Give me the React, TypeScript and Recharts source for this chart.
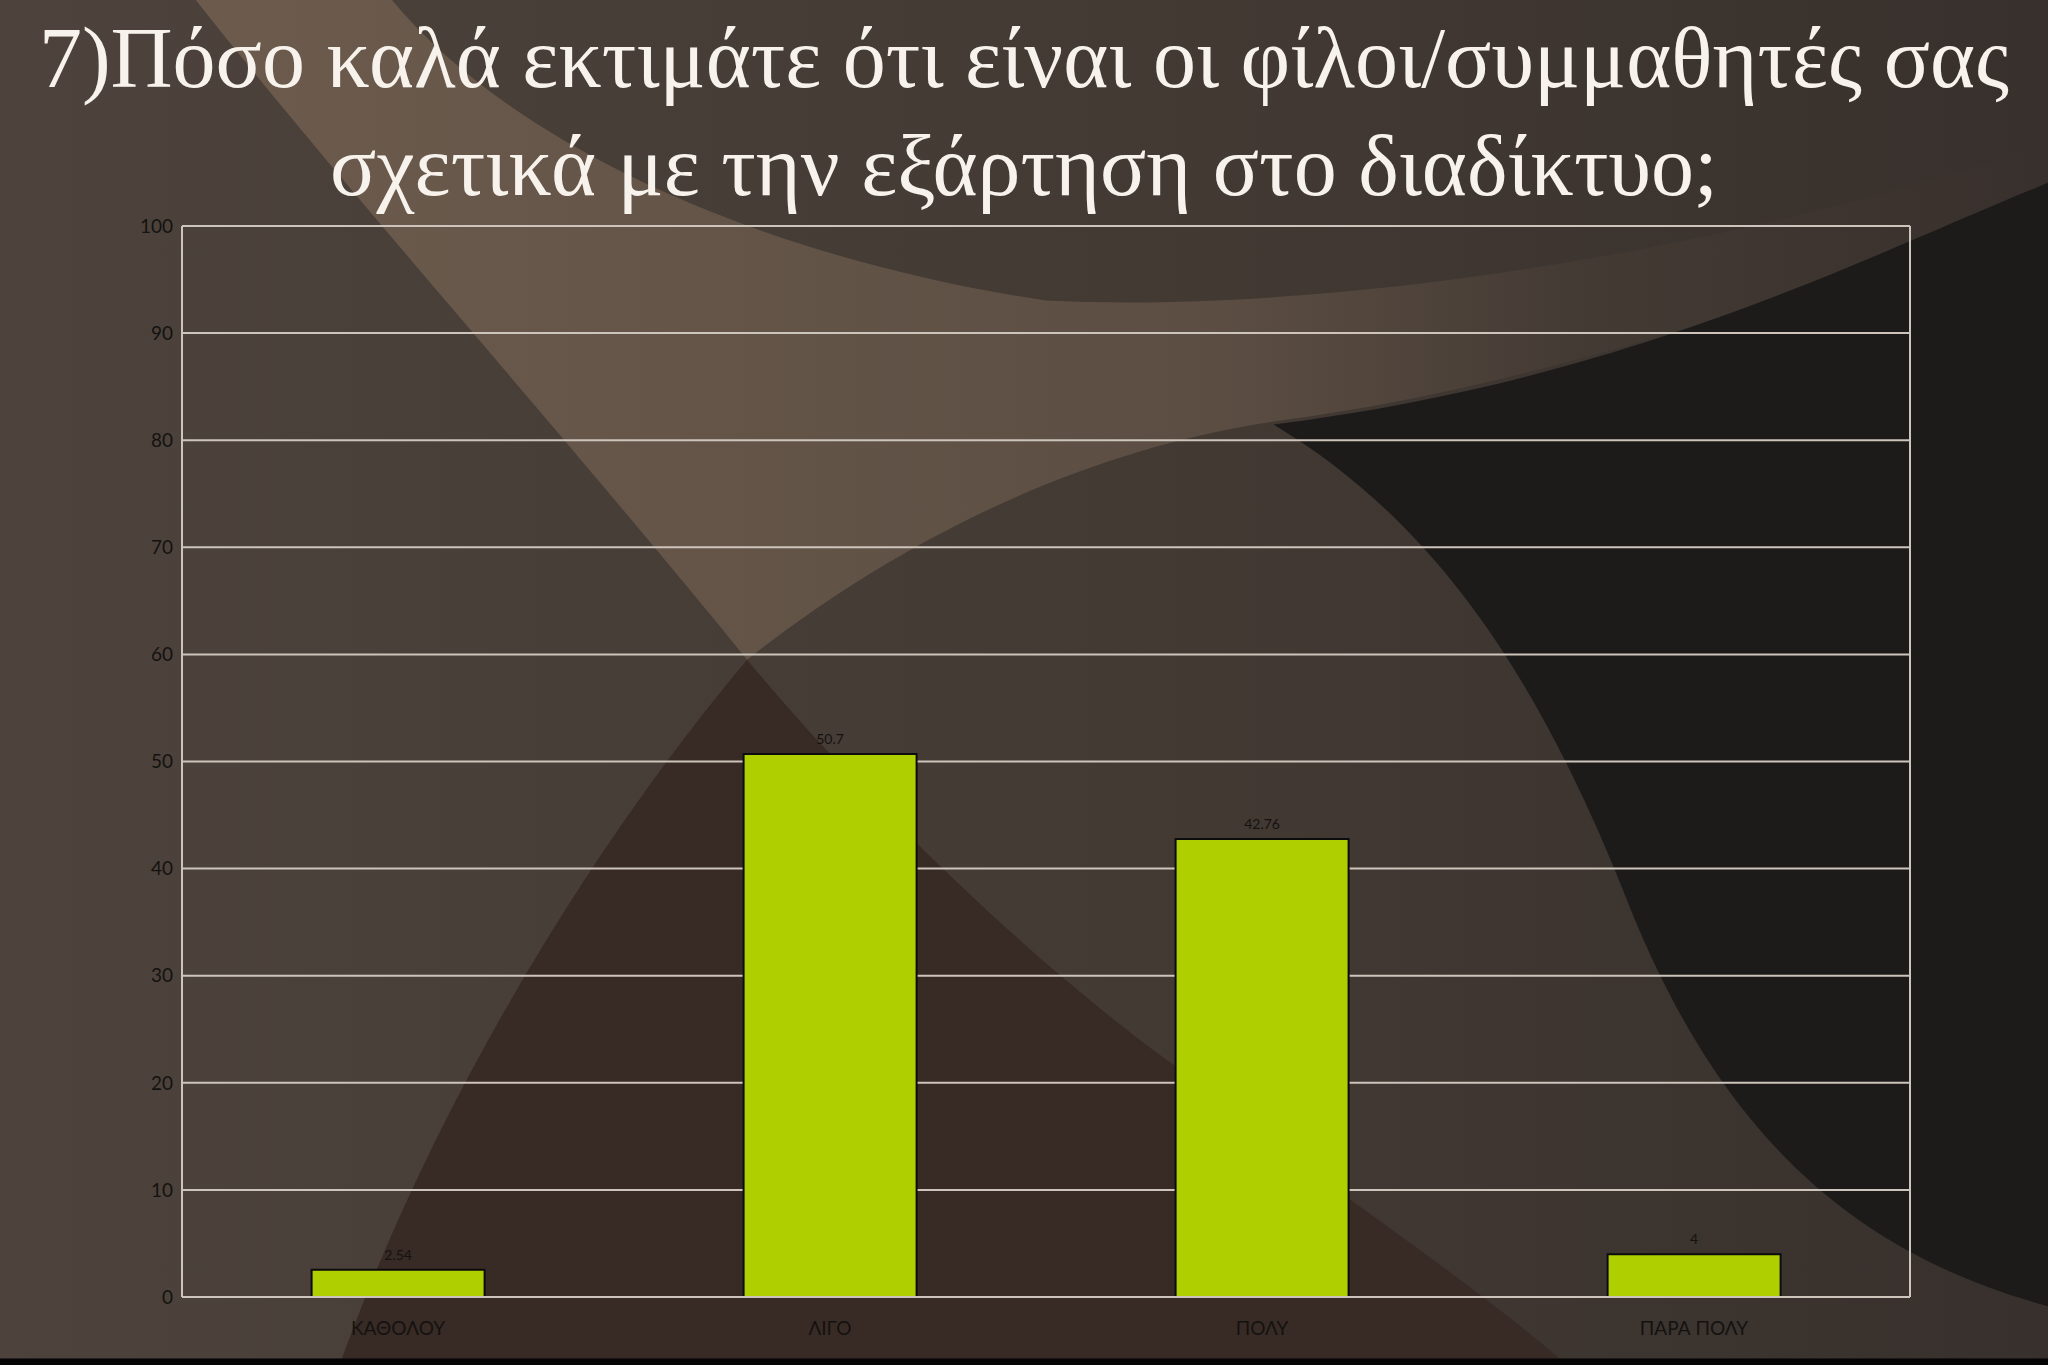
import { BarChart, Bar, XAxis, YAxis, CartesianGrid, LabelList } from "recharts";

const categories = ["ΚΑΘΟΛΟΥ", "ΛΙΓΟ", "ΠΟΛΥ", "ΠΑΡΑ ΠΟΛΥ"];
const percentages = [2.54, 50.7, 42.76, 4];
const yTicks = [0, 10, 20, 30, 40, 50, 60, 70, 80, 90, 100];
const titleLines = [
  "7)Πόσο καλά εκτιμάτε ότι είναι οι φίλοι/συμμαθητές σας",
  "σχετικά με την εξάρτηση στο διαδίκτυο;",
];

const data = categories.map((name, i) => ({ name, value: percentages[i] }));

const GRID = "#cdc5bc";
const BAR = "#b0cf00";
const INK = "#141210";
const SANS = "Lato, 'Open Sans', sans-serif";

function Backdrop() {
  return (
    <svg
      width={2048}
      height={1365}
      viewBox="0 0 1568 1045"
      preserveAspectRatio="none"
      style={{ position: "absolute", left: 0, top: 0 }}
    >
      <defs>
        <linearGradient id="base" x1="0" y1="0" x2="1" y2="0">
          <stop offset="0" stopColor="#4d433c" />
          <stop offset="0.6" stopColor="#423933" />
          <stop offset="1" stopColor="#37302c" />
        </linearGradient>
        <linearGradient id="swoosh" x1="0" y1="0" x2="1" y2="0">
          <stop offset="0" stopColor="#7a6655" stopOpacity={0.7} />
          <stop offset="0.55" stopColor="#7a6655" stopOpacity={0.45} />
          <stop offset="0.75" stopColor="#7a6655" stopOpacity={0.1} />
          <stop offset="1" stopColor="#7a6655" stopOpacity={0} />
        </linearGradient>
      </defs>
      <rect x={0} y={0} width={1568} height={1045} fill="url(#base)" />
      {/* light swoosh top-left */}
      <path
        d="M 150 0 C 260 140, 430 330, 572 505 C 680 420, 820 345, 980 322 C 1150 300, 1350 240, 1568 150 L 1568 110 C 1300 200, 1000 240, 800 230 C 600 200, 400 120, 300 0 Z"
        fill="url(#swoosh)"
      />
      {/* reddish dark wedge bottom middle */}
      <path
        d="M 572 505 C 650 600, 800 750, 920 830 C 1000 900, 1100 960, 1200 1045 L 260 1045 C 330 850, 450 650, 572 505 Z"
        fill="#382a25"
      />
      {/* dark region right */}
      <path
        d="M 975 325 C 1250 290, 1420 200, 1568 140 L 1568 1000 C 1420 960, 1320 870, 1250 700 C 1180 520, 1100 400, 975 325 Z"
        fill="#1d1b1a"
      />
      <rect x={0} y={1040} width={1568} height={5} fill="#050505" />
    </svg>
  );
}

export default function App() {
  return (
    <div
      style={{
        position: "fixed",
        left: 0,
        top: 0,
        width: 2048,
        height: 1365,
        overflow: "hidden",
        background: "#3f3631",
      }}
    >
      <Backdrop />

      {/* Title */}
      {titleLines.map((line, i) => (
        <div
          key={i}
          style={{
            position: "absolute",
            left: 0,
            top: 10 + i * 108,
            width: 2048,
            textAlign: "center",
            fontFamily: "'Liberation Serif', 'DejaVu Serif', serif",
            fontSize: 86,
            lineHeight: "97px",
            color: "#f7f3ec",
            whiteSpace: "nowrap",
          }}
        >
          {line}
        </div>
      ))}

      <div style={{ position: "absolute", left: 0, top: 0 }}>
        <BarChart
          width={2048}
          height={1365}
          data={data}
          margin={{ top: 226, right: 137, left: 122, bottom: 8 }}
          barCategoryGap="30%"
        >
          <CartesianGrid
            yAxisId="left"
            vertical={false}
            stroke={GRID}
            strokeWidth={2}
          />
          <XAxis
            dataKey="name"
            axisLine={{ stroke: GRID, strokeWidth: 2 }}
            tickLine={false}
            tickSize={6}
            tickMargin={19}
            height={60}
            tick={{ fill: INK, fontSize: 19, fontFamily: SANS }}
          />
          <YAxis
            yAxisId="left"
            domain={[0, 100]}
            ticks={yTicks}
            width={60}
            axisLine={{ stroke: GRID, strokeWidth: 2 }}
            tickLine={false}
            tickMargin={3}
            tick={{ fill: INK, fontSize: 19, fontFamily: SANS }}
          />
          <YAxis
            yAxisId="right"
            orientation="right"
            domain={[0, 100]}
            width={1}
            tick={false}
            tickLine={false}
            axisLine={{ stroke: GRID, strokeWidth: 2 }}
          />
          <Bar
            yAxisId="left"
            dataKey="value"
            fill={BAR}
            stroke="#0c0c0c"
            strokeWidth={2}
            isAnimationActive={false}
          >
            <LabelList
              dataKey="value"
              position="top"
              offset={10}
              fill={INK}
              fontSize={14}
              fontFamily={SANS}
            />
          </Bar>
        </BarChart>
      </div>
    </div>
  );
}
